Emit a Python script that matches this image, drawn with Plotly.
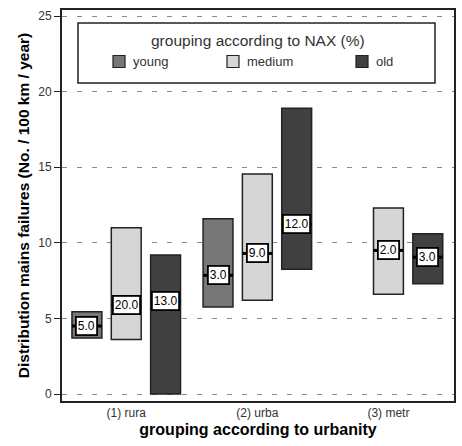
import plotly.graph_objects as go

categories = ["(1) rura", "(2) urba", "(3) metr"]
series_names = ["young", "medium", "old"]
series_colors = ["#777777", "#d6d6d6", "#404040"]

young_low = [3.7, 5.75, None]
young_high = [5.45, 11.6, None]
young_median = [4.5, 7.85, None]
young_labels = ["5.0", "3.0", None]

medium_low = [3.6, 6.2, 6.6]
medium_high = [11.0, 14.55, 12.3]
medium_median = [5.9, 9.3, 9.5]
medium_labels = ["20.0", "9.0", "2.0"]

old_low = [0.0, 8.25, 7.3]
old_high = [9.2, 18.9, 10.6]
old_median = [6.15, 11.25, 9.05]
old_labels = ["13.0", "12.0", "3.0"]

y_ticks = [0, 5, 10, 15, 20, 25]

lows = [young_low, medium_low, old_low]
highs = [young_high, medium_high, old_high]
medians = [young_median, medium_median, old_median]
labels = [young_labels, medium_labels, old_labels]

offsets = [-0.30, 0.0, 0.30]
bw = 0.228

fig = go.Figure()
shapes = []
annotations = []

for j, name in enumerate(series_names):
    xs, bases, heights = [], [], []
    for i in range(len(categories)):
        if lows[j][i] is None:
            continue
        xc = i + offsets[j]
        xs.append(xc)
        bases.append(lows[j][i])
        heights.append(highs[j][i] - lows[j][i])
        shapes.append(dict(type="line", xref="x", yref="y",
                           x0=xc - bw / 2, x1=xc + bw / 2,
                           y0=medians[j][i], y1=medians[j][i],
                           line=dict(color="black", width=3), layer="above"))
        annotations.append(dict(x=xc, y=medians[j][i], xref="x", yref="y",
                                text=labels[j][i], showarrow=False,
                                xanchor="center", yanchor="middle",
                                font=dict(size=12, color="black"),
                                bgcolor="white", bordercolor="black",
                                borderwidth=1.8, borderpad=1))
    fig.add_trace(go.Bar(x=xs, y=heights, base=bases, width=bw, name=name,
                         marker=dict(color=series_colors[j],
                                     line=dict(color="#222222", width=1.5)),
                         showlegend=False, hoverinfo="skip"))

# manual legend (pixel -> paper)
L, R, T, B = 62, 454, 10, 401
def px(x):
    return (x - L) / (R - L)
def py(y):
    return (B - y) / (B - T)

shapes.append(dict(type="rect", xref="paper", yref="paper",
                   x0=px(78), x1=px(435), y0=py(83), y1=py(23),
                   line=dict(color="#222222", width=1.5), fillcolor="white", layer="above"))
annotations.append(dict(x=px(258), y=py(40), xref="paper", yref="paper",
                        text="grouping according to NAX (%)", showarrow=False,
                        xanchor="center", yanchor="middle",
                        font=dict(size=15.5, color="#333333")))
sw_x = [113, 227, 356]
for j, name in enumerate(series_names):
    shapes.append(dict(type="rect", xref="paper", yref="paper",
                       x0=px(sw_x[j]), x1=px(sw_x[j] + 12), y0=py(67.5), y1=py(55.5),
                       line=dict(color="#222222", width=1.2),
                       fillcolor=series_colors[j], layer="above"))
    annotations.append(dict(x=px(sw_x[j] + 18), y=py(61.5), xref="paper", yref="paper",
                            text=name, showarrow=False, xanchor="left", yanchor="middle",
                            font=dict(size=13, color="#333333")))

fig.update_layout(
    width=462, height=446,
    margin=dict(l=62, r=8, t=10, b=45),
    paper_bgcolor="white", plot_bgcolor="white",
    font=dict(family="Liberation Sans, Arial, sans-serif", color="#333333"),
    barmode="overlay",
    shapes=shapes, annotations=annotations,
    xaxis=dict(range=[-0.49, 2.50], tickvals=[0, 1, 2], ticktext=categories,
               automargin=False,
               showgrid=False, zeroline=False, showline=True, mirror=True,
               linecolor="#222222", linewidth=2, ticks="",
               tickfont=dict(size=12, color="#333333"),
               title=dict(text="<b>grouping according to urbanity</b>",
                          font=dict(size=16, color="black"), standoff=4)),
    yaxis=dict(range=[-0.46, 25.4], tickvals=y_ticks, automargin=False,
               showgrid=True, gridcolor="#8a8a8a", griddash="5px,10px", gridwidth=1.3,
               zeroline=False, showline=True, mirror=True,
               linecolor="#222222", linewidth=2, ticks="outside", ticklen=6,
               tickcolor="#222222", tickfont=dict(size=12, color="#333333"),
               title=dict(text="<b>Distribution mains failures (No. / 100 km / year)</b>",
                          font=dict(size=15.5, color="black"), standoff=5)),
)

fig.write_html("out.html", config={"displayModeBar": False},
               post_script="document.body.style.margin='0';document.body.style.overflow='hidden';")
